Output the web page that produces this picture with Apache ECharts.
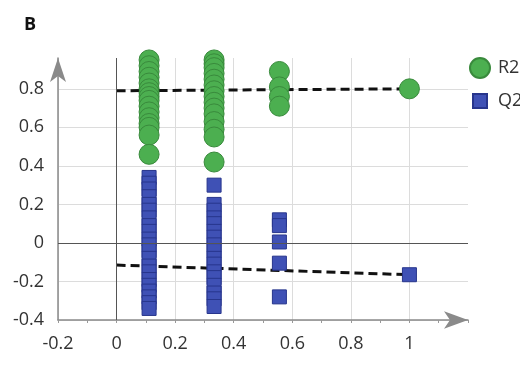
<!DOCTYPE html>
<html>
<head>
<meta charset="utf-8">
<script src="https://cdn.jsdelivr.net/npm/echarts@6/dist/echarts.min.js"></script>
<style>html,body{margin:0;padding:0;background:#fff}#c{width:520px;height:390px}</style>
</head>
<body>
<div id="c"></div>
<script>
// permutation positions (x)
var colX = [0.111, 0.333, 0.556, 1];
// R2 values per column
var r2Col1 = [0.95, 0.92, 0.89, 0.86, 0.83, 0.80, 0.78, 0.76, 0.74, 0.71, 0.68, 0.65, 0.62, 0.60, 0.56, 0.46];
var r2Col2 = [0.95, 0.93, 0.91, 0.88, 0.85, 0.82, 0.79, 0.76, 0.73, 0.70, 0.67, 0.63, 0.59, 0.55, 0.42];
var r2Col3 = [0.89, 0.81, 0.76, 0.71];
var r2Orig = [0.80];
// Q2 values per column
var q2Col1 = [0.34, 0.31, 0.28, 0.24, 0.20, 0.17, 0.13, 0.09, 0.06, 0.02, -0.01, -0.04, -0.08, -0.12, -0.15, -0.19, -0.22, -0.25, -0.28, -0.31, -0.34];
var q2Col2 = [0.30, 0.20, 0.17, 0.13, 0.10, 0.06, 0.03, -0.01, -0.04, -0.08, -0.11, -0.15, -0.18, -0.22, -0.26, -0.29, -0.33];
var q2Col3 = [0.12, 0.09, 0.005, -0.105, -0.28];
var q2Orig = [-0.165];
// regression lines [x, y]
var r2Fit = [[0, 0.79], [1, 0.80]];
var q2Fit = [[0, -0.115], [1, -0.165]];

function pts(x, arr) { return arr.map(function (v) { return [x, v]; }); }
var r2Data = [].concat(pts(colX[0], r2Col1), pts(colX[1], r2Col2), pts(colX[2], r2Col3), pts(colX[3], r2Orig));
var q2Data = [].concat(pts(colX[0], q2Col1), pts(colX[1], q2Col2), pts(colX[2], q2Col3), pts(colX[3], q2Orig));

var FONT = 'Open Sans';
var chart = echarts.init(document.getElementById('c'), null, {renderer: 'canvas'});
chart.setOption({
  animation: false,
  backgroundColor: '#fff',
  title: {text: 'B', left: 19, top: 11, textStyle: {fontFamily: FONT, fontSize: 18, fontWeight: 'bold', color: '#111'}},
  legend: [
    {data: ['R2'], orient: 'vertical', left: 464, top: 52, itemWidth: 20, itemHeight: 20,
     textStyle: {fontFamily: FONT, fontSize: 18, color: '#333', padding: [0, 0, 0, 3]}},
    {data: ['Q2'], orient: 'vertical', left: 467, top: 87, itemWidth: 14, itemHeight: 14,
     textStyle: {fontFamily: FONT, fontSize: 18, color: '#333', padding: [0, 0, 0, 6]}}
  ],
  grid: {left: 58, right: 52, top: 58, bottom: 70, containLabel: false},
  xAxis: {
    type: 'value', min: -0.2, max: 1.2, interval: 0.2,
    axisLine: {onZero: false, lineStyle: {color: '#8a8a8a', width: 1.5}, symbol: ['none', 'arrow'], symbolSize: [13, 24], symbolOffset: [0, 0]},
    axisTick: {show: true, length: 3, lineStyle: {color: '#999'}},
    minorTick: {show: true, splitNumber: 2, length: 3, lineStyle: {color: '#999'}},
    axisLabel: {fontFamily: FONT, fontSize: 18, color: '#333', margin: 15, showMaxLabel: false,
      formatter: function (v) { return String(Math.round(v * 10) / 10); }},
    splitLine: {show: true, showMaxLine: false, lineStyle: {color: '#dcdcdc'}}
  },
  yAxis: {
    type: 'value', min: -0.4, max: 0.96, interval: 0.2,
    axisLine: {show: true, onZero: false, lineStyle: {color: '#8a8a8a', width: 1.5}, symbol: ['none', 'arrow'], symbolSize: [12, 24], symbolOffset: [0, 0]},
    axisTick: {show: false},
    axisLabel: {fontFamily: FONT, fontSize: 18, color: '#333', margin: 14, showMaxLabel: false,
      formatter: function (v) { return String(Math.round(v * 10) / 10); }},
    splitLine: {show: true, showMaxLine: false, lineStyle: {color: '#dcdcdc'}}
  },
  series: [
    {
      type: 'line', name: 'r2fit', data: r2Fit, showSymbol: false, symbol: 'none', z: 2, silent: true,
      lineStyle: {color: '#111', width: 3, type: [9, 5]},
      markLine: {silent: true, symbol: 'none', label: {show: false}, animation: false,
        lineStyle: {color: '#555', type: 'solid', width: 1},
        data: [{xAxis: 0}, {yAxis: 0}]}
    },
    {
      type: 'line', name: 'q2fit', data: q2Fit, showSymbol: false, symbol: 'none', z: 2, silent: true,
      lineStyle: {color: '#111', width: 3, type: [9, 5]}
    },
    {
      type: 'scatter', name: 'R2', data: r2Data, symbol: 'circle', symbolSize: 20, z: 3,
      itemStyle: {color: '#4caf50', borderColor: '#398a3c', borderWidth: 1, opacity: 1}
    },
    {
      type: 'scatter', name: 'Q2', data: q2Data, symbol: 'rect', symbolSize: 14, z: 3,
      itemStyle: {color: '#3f51b5', borderColor: '#27358c', borderWidth: 1, opacity: 1}
    }
  ]
});
</script>
</body>
</html>
